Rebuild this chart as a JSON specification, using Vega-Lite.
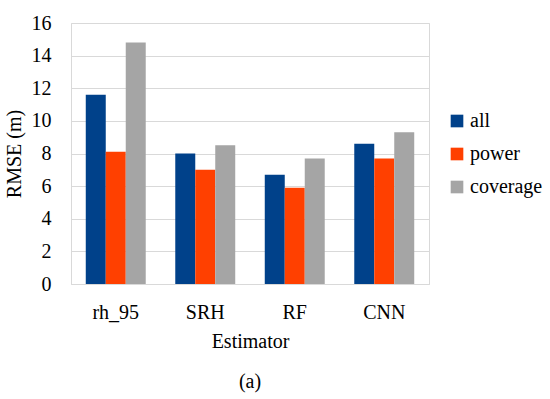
{
  "$schema": "https://vega.github.io/schema/vega-lite/v6.json",
  "autosize": "none",
  "width": 358,
  "height": 261,
  "padding": {"left": 71, "top": 23, "right": 121, "bottom": 115},
  "background": "white",
  "config": {
    "font": "Liberation Serif, serif",
    "view": {"stroke": "#D9D9D9", "strokeWidth": 1}
  },
  "title": {
    "text": "(a)",
    "orient": "bottom",
    "anchor": "middle",
    "fontSize": 20,
    "fontWeight": "normal",
    "font": "Liberation Serif, serif",
    "color": "black",
    "offset": 21
  },
  "data": {
    "values": [
      {"Estimator": "rh_95", "group": "all", "RMSE": 11.6},
      {"Estimator": "rh_95", "group": "power", "RMSE": 8.1},
      {"Estimator": "rh_95", "group": "coverage", "RMSE": 14.8},
      {"Estimator": "SRH", "group": "all", "RMSE": 8.0},
      {"Estimator": "SRH", "group": "power", "RMSE": 7.0},
      {"Estimator": "SRH", "group": "coverage", "RMSE": 8.5},
      {"Estimator": "RF", "group": "all", "RMSE": 6.7},
      {"Estimator": "RF", "group": "power", "RMSE": 5.9},
      {"Estimator": "RF", "group": "coverage", "RMSE": 7.7},
      {"Estimator": "CNN", "group": "all", "RMSE": 8.6},
      {"Estimator": "CNN", "group": "power", "RMSE": 7.7},
      {"Estimator": "CNN", "group": "coverage", "RMSE": 9.3}
    ]
  },
  "mark": {"type": "bar"},
  "encoding": {
    "x": {
      "field": "Estimator",
      "type": "nominal",
      "sort": ["rh_95", "SRH", "RF", "CNN"],
      "scale": {"paddingInner": 0.33, "paddingOuter": 0.165},
      "axis": {
        "labelAngle": 0,
        "labelFontSize": 20,
        "labelColor": "black",
        "labelPadding": 18,
        "ticks": false,
        "domainColor": "#D9D9D9",
        "title": "Estimator",
        "titleFontSize": 20,
        "titleFontWeight": "normal",
        "titleColor": "black",
        "titlePadding": 9
      }
    },
    "xOffset": {
      "field": "group",
      "type": "nominal",
      "sort": ["all", "power", "coverage"],
      "scale": {"paddingInner": 0, "paddingOuter": 0}
    },
    "y": {
      "field": "RMSE",
      "type": "quantitative",
      "scale": {"domain": [0, 16], "nice": false},
      "axis": {
        "values": [0, 2, 4, 6, 8, 10, 12, 14, 16],
        "labelFontSize": 20,
        "labelColor": "black",
        "labelPadding": 20,
        "ticks": false,
        "domain": false,
        "gridColor": "#D9D9D9",
        "title": "RMSE (m)",
        "titleFontSize": 20,
        "titleFontWeight": "normal",
        "titleColor": "black",
        "titlePadding": 7
      }
    },
    "color": {
      "field": "group",
      "type": "nominal",
      "sort": ["all", "power", "coverage"],
      "scale": {"domain": ["all", "power", "coverage"], "range": ["#00418A", "#FF4000", "#A5A5A5"]},
      "legend": {
        "title": null,
        "orient": "none",
        "legendX": 376,
        "legendY": 88,
        "symbolType": "square",
        "symbolSize": 160,
        "symbolStrokeWidth": 0,
        "labelFontSize": 20,
        "labelColor": "black",
        "labelOffset": 3,
        "rowPadding": 13
      }
    }
  }
}
